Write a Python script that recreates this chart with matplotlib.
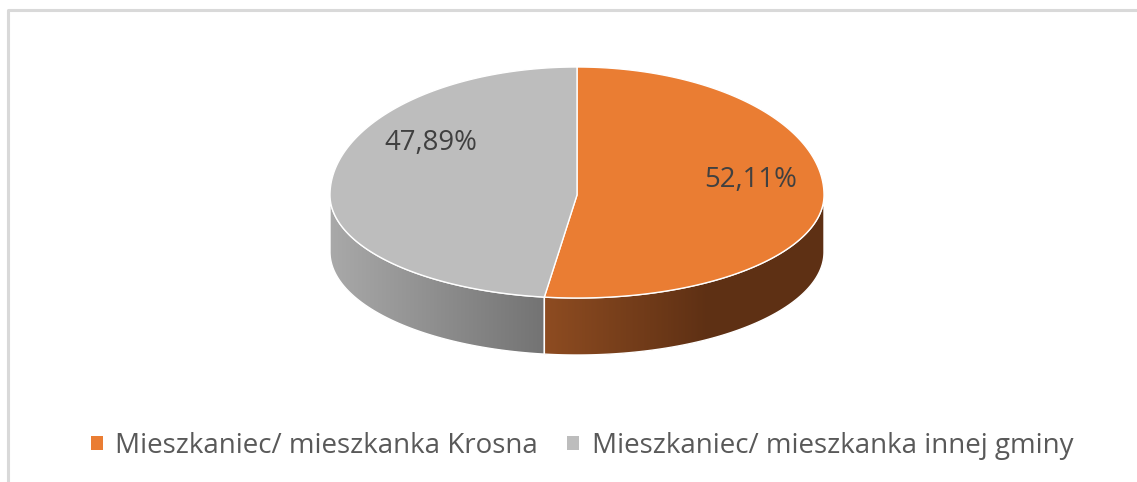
import numpy as np
import matplotlib
matplotlib.use("Agg")
import matplotlib.pyplot as plt
from matplotlib.patches import Polygon, Patch
from matplotlib.colors import LinearSegmentedColormap

# ---- data ----
categories = ["Mieszkaniec/ mieszkanka Krosna", "Mieszkaniec/ mieszkanka innej gminy"]
values = [52.11, 47.89]
labels = ["52,11%", "47,89%"]
top_colors = ["#EA7D33", "#BDBDBD"]
side_cmaps = [["#8E4C21", "#5E3014"], ["#A9A9A9", "#737373"]]

W, H = 1137, 482
fig = plt.figure(figsize=(W / 100, H / 100), dpi=100)
ax = fig.add_axes([0, 0, 1, 1])
ax.set_xlim(0, W)
ax.set_ylim(H, 0)
ax.axis("off")

# frame (top and left edges visible in reference)
ax.plot([8, 8, W], [H, 10, 10], color="#D9D9D9", lw=2.2, solid_capstyle="butt")

# pie geometry (pixels) - slight perspective: back half flatter than front half
cx, cy, a, b_back, b_front, depth = 577, 195, 247, 128, 103, 57

fr = np.array(values) / np.sum(values)
starts = 90 - 360 * np.concatenate([[0], np.cumsum(fr)[:-1]])
ends = starts - 360 * fr

def ell(th, dy=0.0):
    t = np.radians(th)
    s = np.sin(t)
    bb = np.where(s >= 0, b_back, b_front)
    return cx + a * np.cos(t), cy - bb * s + dy

# side walls (front half: angles between -180 and 0)
for i in range(len(values)):
    lo, hi = max(ends[i], -180), min(starts[i], 0)
    if hi <= lo:
        continue
    th = np.linspace(hi, lo, 200)
    xt, yt = ell(th)
    xb, yb = ell(th[::-1], depth)
    pts = np.column_stack([np.concatenate([xt, xb]), np.concatenate([yt, yb])])
    poly = Polygon(pts, closed=True, facecolor="none", edgecolor="white", lw=1.0, zorder=3)
    ax.add_patch(poly)
    x0, x1 = pts[:, 0].min(), pts[:, 0].max()
    y0, y1 = pts[:, 1].min() - 5, pts[:, 1].max() + 5
    cmap = LinearSegmentedColormap.from_list("s%d" % i, side_cmaps[i])
    grad = np.linspace(0, 1, 256)[None, :]
    if i == 0:
        bg = Polygon(pts, closed=True, facecolor=side_cmaps[i][-1], edgecolor="none", zorder=1.9)
        ax.add_patch(bg)
        im = ax.imshow(grad, cmap=cmap, extent=[x0, x0 + 165, y1, y0], aspect="auto", zorder=2)
    else:
        im = ax.imshow(grad, cmap=cmap, extent=[x0, x1, y1, y0], aspect="auto", zorder=2)
    im.set_clip_path(poly)

# top face
for i in range(len(values)):
    th = np.linspace(starts[i], ends[i], 300)
    x, y = ell(th)
    pts = np.column_stack([np.concatenate([[cx], x]), np.concatenate([[cy], y])])
    ax.add_patch(Polygon(pts, closed=True, facecolor=top_colors[i], edgecolor="white",
                         lw=1.0, joinstyle="round", zorder=4))

# data labels
label_pos = [(751, 180), (431, 143)]
for (lx, ly), t in zip(label_pos, labels):
    ax.text(lx, ly, t, ha="center", va="center", fontsize=19.8, color="#404040",
            family="Open Sans", zorder=6)

# legend
handles = [Patch(facecolor=c, edgecolor="none") for c in top_colors]
leg = fig.legend(handles, categories, loc="center", bbox_to_anchor=(582 / W, 1 - 446 / H), ncol=2,
                 frameon=False, prop={"family": "Open Sans", "size": 20},
                 handlelength=0.43, handleheight=0.43, handletextpad=0.45,
                 columnspacing=1.05, borderpad=0, borderaxespad=0)
for t in leg.get_texts():
    t.set_color("#595959")

fig.savefig("out.png", dpi=100, facecolor="white")
